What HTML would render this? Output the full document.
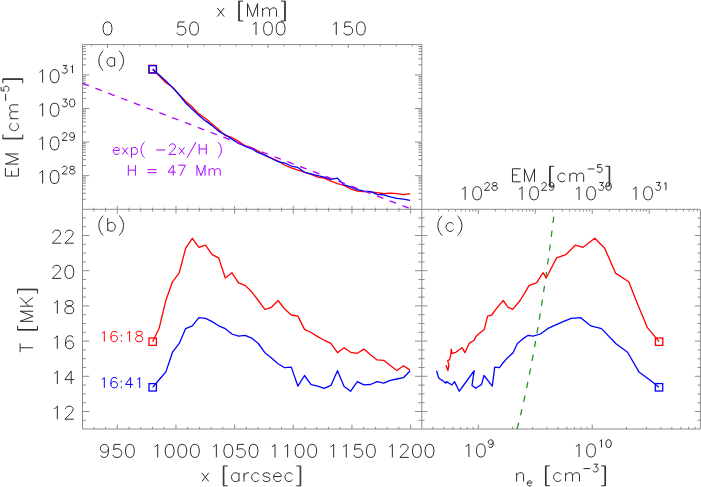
<!DOCTYPE html>
<html><head><meta charset="utf-8"><style>
html,body{margin:0;padding:0;background:#fff;}
svg{display:block;}
</style></head><body>
<svg width="701" height="487" viewBox="0 0 701 487">
<rect width="701" height="487" fill="#fff"/>
<g>
<line x1="82.50" y1="44.60" x2="421.80" y2="44.60" stroke="#8c8c8c" stroke-width="1.0"/>
<line x1="82.50" y1="209.30" x2="700.40" y2="209.30" stroke="#8c8c8c" stroke-width="1.0"/>
<line x1="82.50" y1="429.00" x2="700.40" y2="429.00" stroke="#8c8c8c" stroke-width="1.0"/>
<line x1="82.50" y1="44.60" x2="82.50" y2="429.00" stroke="#8c8c8c" stroke-width="1.0"/>
<line x1="421.80" y1="44.60" x2="421.80" y2="429.00" stroke="#8c8c8c" stroke-width="1.0"/>
<line x1="700.40" y1="209.30" x2="700.40" y2="429.00" stroke="#8c8c8c" stroke-width="1.0"/>
<line x1="82.50" y1="199.19" x2="85.90" y2="199.19" stroke="#8c8c8c" stroke-width="1.0"/>
<line x1="421.80" y1="199.19" x2="418.40" y2="199.19" stroke="#8c8c8c" stroke-width="1.0"/>
<line x1="82.50" y1="193.27" x2="85.90" y2="193.27" stroke="#8c8c8c" stroke-width="1.0"/>
<line x1="421.80" y1="193.27" x2="418.40" y2="193.27" stroke="#8c8c8c" stroke-width="1.0"/>
<line x1="82.50" y1="189.07" x2="85.90" y2="189.07" stroke="#8c8c8c" stroke-width="1.0"/>
<line x1="421.80" y1="189.07" x2="418.40" y2="189.07" stroke="#8c8c8c" stroke-width="1.0"/>
<line x1="82.50" y1="185.81" x2="85.90" y2="185.81" stroke="#8c8c8c" stroke-width="1.0"/>
<line x1="421.80" y1="185.81" x2="418.40" y2="185.81" stroke="#8c8c8c" stroke-width="1.0"/>
<line x1="82.50" y1="183.15" x2="85.90" y2="183.15" stroke="#8c8c8c" stroke-width="1.0"/>
<line x1="421.80" y1="183.15" x2="418.40" y2="183.15" stroke="#8c8c8c" stroke-width="1.0"/>
<line x1="82.50" y1="180.90" x2="85.90" y2="180.90" stroke="#8c8c8c" stroke-width="1.0"/>
<line x1="421.80" y1="180.90" x2="418.40" y2="180.90" stroke="#8c8c8c" stroke-width="1.0"/>
<line x1="82.50" y1="178.96" x2="85.90" y2="178.96" stroke="#8c8c8c" stroke-width="1.0"/>
<line x1="421.80" y1="178.96" x2="418.40" y2="178.96" stroke="#8c8c8c" stroke-width="1.0"/>
<line x1="82.50" y1="177.24" x2="85.90" y2="177.24" stroke="#8c8c8c" stroke-width="1.0"/>
<line x1="421.80" y1="177.24" x2="418.40" y2="177.24" stroke="#8c8c8c" stroke-width="1.0"/>
<line x1="82.50" y1="175.70" x2="89.30" y2="175.70" stroke="#8c8c8c" stroke-width="1.0"/>
<line x1="421.80" y1="175.70" x2="415.00" y2="175.70" stroke="#8c8c8c" stroke-width="1.0"/>
<line x1="82.50" y1="165.59" x2="85.90" y2="165.59" stroke="#8c8c8c" stroke-width="1.0"/>
<line x1="421.80" y1="165.59" x2="418.40" y2="165.59" stroke="#8c8c8c" stroke-width="1.0"/>
<line x1="82.50" y1="159.67" x2="85.90" y2="159.67" stroke="#8c8c8c" stroke-width="1.0"/>
<line x1="421.80" y1="159.67" x2="418.40" y2="159.67" stroke="#8c8c8c" stroke-width="1.0"/>
<line x1="82.50" y1="155.47" x2="85.90" y2="155.47" stroke="#8c8c8c" stroke-width="1.0"/>
<line x1="421.80" y1="155.47" x2="418.40" y2="155.47" stroke="#8c8c8c" stroke-width="1.0"/>
<line x1="82.50" y1="152.21" x2="85.90" y2="152.21" stroke="#8c8c8c" stroke-width="1.0"/>
<line x1="421.80" y1="152.21" x2="418.40" y2="152.21" stroke="#8c8c8c" stroke-width="1.0"/>
<line x1="82.50" y1="149.55" x2="85.90" y2="149.55" stroke="#8c8c8c" stroke-width="1.0"/>
<line x1="421.80" y1="149.55" x2="418.40" y2="149.55" stroke="#8c8c8c" stroke-width="1.0"/>
<line x1="82.50" y1="147.30" x2="85.90" y2="147.30" stroke="#8c8c8c" stroke-width="1.0"/>
<line x1="421.80" y1="147.30" x2="418.40" y2="147.30" stroke="#8c8c8c" stroke-width="1.0"/>
<line x1="82.50" y1="145.36" x2="85.90" y2="145.36" stroke="#8c8c8c" stroke-width="1.0"/>
<line x1="421.80" y1="145.36" x2="418.40" y2="145.36" stroke="#8c8c8c" stroke-width="1.0"/>
<line x1="82.50" y1="143.64" x2="85.90" y2="143.64" stroke="#8c8c8c" stroke-width="1.0"/>
<line x1="421.80" y1="143.64" x2="418.40" y2="143.64" stroke="#8c8c8c" stroke-width="1.0"/>
<line x1="82.50" y1="142.10" x2="89.30" y2="142.10" stroke="#8c8c8c" stroke-width="1.0"/>
<line x1="421.80" y1="142.10" x2="415.00" y2="142.10" stroke="#8c8c8c" stroke-width="1.0"/>
<line x1="82.50" y1="131.99" x2="85.90" y2="131.99" stroke="#8c8c8c" stroke-width="1.0"/>
<line x1="421.80" y1="131.99" x2="418.40" y2="131.99" stroke="#8c8c8c" stroke-width="1.0"/>
<line x1="82.50" y1="126.07" x2="85.90" y2="126.07" stroke="#8c8c8c" stroke-width="1.0"/>
<line x1="421.80" y1="126.07" x2="418.40" y2="126.07" stroke="#8c8c8c" stroke-width="1.0"/>
<line x1="82.50" y1="121.87" x2="85.90" y2="121.87" stroke="#8c8c8c" stroke-width="1.0"/>
<line x1="421.80" y1="121.87" x2="418.40" y2="121.87" stroke="#8c8c8c" stroke-width="1.0"/>
<line x1="82.50" y1="118.61" x2="85.90" y2="118.61" stroke="#8c8c8c" stroke-width="1.0"/>
<line x1="421.80" y1="118.61" x2="418.40" y2="118.61" stroke="#8c8c8c" stroke-width="1.0"/>
<line x1="82.50" y1="115.95" x2="85.90" y2="115.95" stroke="#8c8c8c" stroke-width="1.0"/>
<line x1="421.80" y1="115.95" x2="418.40" y2="115.95" stroke="#8c8c8c" stroke-width="1.0"/>
<line x1="82.50" y1="113.70" x2="85.90" y2="113.70" stroke="#8c8c8c" stroke-width="1.0"/>
<line x1="421.80" y1="113.70" x2="418.40" y2="113.70" stroke="#8c8c8c" stroke-width="1.0"/>
<line x1="82.50" y1="111.76" x2="85.90" y2="111.76" stroke="#8c8c8c" stroke-width="1.0"/>
<line x1="421.80" y1="111.76" x2="418.40" y2="111.76" stroke="#8c8c8c" stroke-width="1.0"/>
<line x1="82.50" y1="110.04" x2="85.90" y2="110.04" stroke="#8c8c8c" stroke-width="1.0"/>
<line x1="421.80" y1="110.04" x2="418.40" y2="110.04" stroke="#8c8c8c" stroke-width="1.0"/>
<line x1="82.50" y1="108.50" x2="89.30" y2="108.50" stroke="#8c8c8c" stroke-width="1.0"/>
<line x1="421.80" y1="108.50" x2="415.00" y2="108.50" stroke="#8c8c8c" stroke-width="1.0"/>
<line x1="82.50" y1="98.39" x2="85.90" y2="98.39" stroke="#8c8c8c" stroke-width="1.0"/>
<line x1="421.80" y1="98.39" x2="418.40" y2="98.39" stroke="#8c8c8c" stroke-width="1.0"/>
<line x1="82.50" y1="92.47" x2="85.90" y2="92.47" stroke="#8c8c8c" stroke-width="1.0"/>
<line x1="421.80" y1="92.47" x2="418.40" y2="92.47" stroke="#8c8c8c" stroke-width="1.0"/>
<line x1="82.50" y1="88.27" x2="85.90" y2="88.27" stroke="#8c8c8c" stroke-width="1.0"/>
<line x1="421.80" y1="88.27" x2="418.40" y2="88.27" stroke="#8c8c8c" stroke-width="1.0"/>
<line x1="82.50" y1="85.01" x2="85.90" y2="85.01" stroke="#8c8c8c" stroke-width="1.0"/>
<line x1="421.80" y1="85.01" x2="418.40" y2="85.01" stroke="#8c8c8c" stroke-width="1.0"/>
<line x1="82.50" y1="82.35" x2="85.90" y2="82.35" stroke="#8c8c8c" stroke-width="1.0"/>
<line x1="421.80" y1="82.35" x2="418.40" y2="82.35" stroke="#8c8c8c" stroke-width="1.0"/>
<line x1="82.50" y1="80.10" x2="85.90" y2="80.10" stroke="#8c8c8c" stroke-width="1.0"/>
<line x1="421.80" y1="80.10" x2="418.40" y2="80.10" stroke="#8c8c8c" stroke-width="1.0"/>
<line x1="82.50" y1="78.16" x2="85.90" y2="78.16" stroke="#8c8c8c" stroke-width="1.0"/>
<line x1="421.80" y1="78.16" x2="418.40" y2="78.16" stroke="#8c8c8c" stroke-width="1.0"/>
<line x1="82.50" y1="76.44" x2="85.90" y2="76.44" stroke="#8c8c8c" stroke-width="1.0"/>
<line x1="421.80" y1="76.44" x2="418.40" y2="76.44" stroke="#8c8c8c" stroke-width="1.0"/>
<line x1="82.50" y1="74.90" x2="89.30" y2="74.90" stroke="#8c8c8c" stroke-width="1.0"/>
<line x1="421.80" y1="74.90" x2="415.00" y2="74.90" stroke="#8c8c8c" stroke-width="1.0"/>
<line x1="82.50" y1="64.79" x2="85.90" y2="64.79" stroke="#8c8c8c" stroke-width="1.0"/>
<line x1="421.80" y1="64.79" x2="418.40" y2="64.79" stroke="#8c8c8c" stroke-width="1.0"/>
<line x1="82.50" y1="58.87" x2="85.90" y2="58.87" stroke="#8c8c8c" stroke-width="1.0"/>
<line x1="421.80" y1="58.87" x2="418.40" y2="58.87" stroke="#8c8c8c" stroke-width="1.0"/>
<line x1="82.50" y1="54.67" x2="85.90" y2="54.67" stroke="#8c8c8c" stroke-width="1.0"/>
<line x1="421.80" y1="54.67" x2="418.40" y2="54.67" stroke="#8c8c8c" stroke-width="1.0"/>
<line x1="82.50" y1="51.41" x2="85.90" y2="51.41" stroke="#8c8c8c" stroke-width="1.0"/>
<line x1="421.80" y1="51.41" x2="418.40" y2="51.41" stroke="#8c8c8c" stroke-width="1.0"/>
<line x1="82.50" y1="48.75" x2="85.90" y2="48.75" stroke="#8c8c8c" stroke-width="1.0"/>
<line x1="421.80" y1="48.75" x2="418.40" y2="48.75" stroke="#8c8c8c" stroke-width="1.0"/>
<line x1="82.50" y1="46.50" x2="85.90" y2="46.50" stroke="#8c8c8c" stroke-width="1.0"/>
<line x1="421.80" y1="46.50" x2="418.40" y2="46.50" stroke="#8c8c8c" stroke-width="1.0"/>
<line x1="91.45" y1="44.60" x2="91.45" y2="46.25" stroke="#8c8c8c" stroke-width="1.0"/>
<line x1="107.50" y1="44.60" x2="107.50" y2="47.90" stroke="#8c8c8c" stroke-width="1.0"/>
<line x1="123.55" y1="44.60" x2="123.55" y2="46.25" stroke="#8c8c8c" stroke-width="1.0"/>
<line x1="139.60" y1="44.60" x2="139.60" y2="46.25" stroke="#8c8c8c" stroke-width="1.0"/>
<line x1="155.65" y1="44.60" x2="155.65" y2="46.25" stroke="#8c8c8c" stroke-width="1.0"/>
<line x1="171.70" y1="44.60" x2="171.70" y2="46.25" stroke="#8c8c8c" stroke-width="1.0"/>
<line x1="187.75" y1="44.60" x2="187.75" y2="47.90" stroke="#8c8c8c" stroke-width="1.0"/>
<line x1="203.80" y1="44.60" x2="203.80" y2="46.25" stroke="#8c8c8c" stroke-width="1.0"/>
<line x1="219.85" y1="44.60" x2="219.85" y2="46.25" stroke="#8c8c8c" stroke-width="1.0"/>
<line x1="235.90" y1="44.60" x2="235.90" y2="46.25" stroke="#8c8c8c" stroke-width="1.0"/>
<line x1="251.95" y1="44.60" x2="251.95" y2="46.25" stroke="#8c8c8c" stroke-width="1.0"/>
<line x1="268.00" y1="44.60" x2="268.00" y2="47.90" stroke="#8c8c8c" stroke-width="1.0"/>
<line x1="284.05" y1="44.60" x2="284.05" y2="46.25" stroke="#8c8c8c" stroke-width="1.0"/>
<line x1="300.10" y1="44.60" x2="300.10" y2="46.25" stroke="#8c8c8c" stroke-width="1.0"/>
<line x1="316.15" y1="44.60" x2="316.15" y2="46.25" stroke="#8c8c8c" stroke-width="1.0"/>
<line x1="332.20" y1="44.60" x2="332.20" y2="46.25" stroke="#8c8c8c" stroke-width="1.0"/>
<line x1="348.25" y1="44.60" x2="348.25" y2="47.90" stroke="#8c8c8c" stroke-width="1.0"/>
<line x1="364.30" y1="44.60" x2="364.30" y2="46.25" stroke="#8c8c8c" stroke-width="1.0"/>
<line x1="380.35" y1="44.60" x2="380.35" y2="46.25" stroke="#8c8c8c" stroke-width="1.0"/>
<line x1="396.40" y1="44.60" x2="396.40" y2="46.25" stroke="#8c8c8c" stroke-width="1.0"/>
<line x1="412.45" y1="44.60" x2="412.45" y2="46.25" stroke="#8c8c8c" stroke-width="1.0"/>
<line x1="93.84" y1="209.30" x2="93.84" y2="207.65" stroke="#8c8c8c" stroke-width="1.0"/>
<line x1="105.57" y1="209.30" x2="105.57" y2="207.65" stroke="#8c8c8c" stroke-width="1.0"/>
<line x1="117.30" y1="209.30" x2="117.30" y2="206.00" stroke="#8c8c8c" stroke-width="1.0"/>
<line x1="129.03" y1="209.30" x2="129.03" y2="207.65" stroke="#8c8c8c" stroke-width="1.0"/>
<line x1="140.76" y1="209.30" x2="140.76" y2="207.65" stroke="#8c8c8c" stroke-width="1.0"/>
<line x1="152.50" y1="209.30" x2="152.50" y2="207.65" stroke="#8c8c8c" stroke-width="1.0"/>
<line x1="164.23" y1="209.30" x2="164.23" y2="207.65" stroke="#8c8c8c" stroke-width="1.0"/>
<line x1="175.96" y1="209.30" x2="175.96" y2="206.00" stroke="#8c8c8c" stroke-width="1.0"/>
<line x1="187.69" y1="209.30" x2="187.69" y2="207.65" stroke="#8c8c8c" stroke-width="1.0"/>
<line x1="199.42" y1="209.30" x2="199.42" y2="207.65" stroke="#8c8c8c" stroke-width="1.0"/>
<line x1="211.16" y1="209.30" x2="211.16" y2="207.65" stroke="#8c8c8c" stroke-width="1.0"/>
<line x1="222.89" y1="209.30" x2="222.89" y2="207.65" stroke="#8c8c8c" stroke-width="1.0"/>
<line x1="234.62" y1="209.30" x2="234.62" y2="206.00" stroke="#8c8c8c" stroke-width="1.0"/>
<line x1="246.35" y1="209.30" x2="246.35" y2="207.65" stroke="#8c8c8c" stroke-width="1.0"/>
<line x1="258.08" y1="209.30" x2="258.08" y2="207.65" stroke="#8c8c8c" stroke-width="1.0"/>
<line x1="269.82" y1="209.30" x2="269.82" y2="207.65" stroke="#8c8c8c" stroke-width="1.0"/>
<line x1="281.55" y1="209.30" x2="281.55" y2="207.65" stroke="#8c8c8c" stroke-width="1.0"/>
<line x1="293.28" y1="209.30" x2="293.28" y2="206.00" stroke="#8c8c8c" stroke-width="1.0"/>
<line x1="305.01" y1="209.30" x2="305.01" y2="207.65" stroke="#8c8c8c" stroke-width="1.0"/>
<line x1="316.74" y1="209.30" x2="316.74" y2="207.65" stroke="#8c8c8c" stroke-width="1.0"/>
<line x1="328.48" y1="209.30" x2="328.48" y2="207.65" stroke="#8c8c8c" stroke-width="1.0"/>
<line x1="340.21" y1="209.30" x2="340.21" y2="207.65" stroke="#8c8c8c" stroke-width="1.0"/>
<line x1="351.94" y1="209.30" x2="351.94" y2="206.00" stroke="#8c8c8c" stroke-width="1.0"/>
<line x1="363.67" y1="209.30" x2="363.67" y2="207.65" stroke="#8c8c8c" stroke-width="1.0"/>
<line x1="375.40" y1="209.30" x2="375.40" y2="207.65" stroke="#8c8c8c" stroke-width="1.0"/>
<line x1="387.14" y1="209.30" x2="387.14" y2="207.65" stroke="#8c8c8c" stroke-width="1.0"/>
<line x1="398.87" y1="209.30" x2="398.87" y2="207.65" stroke="#8c8c8c" stroke-width="1.0"/>
<line x1="410.60" y1="209.30" x2="410.60" y2="206.00" stroke="#8c8c8c" stroke-width="1.0"/>
<line x1="93.84" y1="209.30" x2="93.84" y2="211.50" stroke="#8c8c8c" stroke-width="1.0"/>
<line x1="93.84" y1="429.00" x2="93.84" y2="426.80" stroke="#8c8c8c" stroke-width="1.0"/>
<line x1="105.57" y1="209.30" x2="105.57" y2="211.50" stroke="#8c8c8c" stroke-width="1.0"/>
<line x1="105.57" y1="429.00" x2="105.57" y2="426.80" stroke="#8c8c8c" stroke-width="1.0"/>
<line x1="117.30" y1="209.30" x2="117.30" y2="213.70" stroke="#8c8c8c" stroke-width="1.0"/>
<line x1="117.30" y1="429.00" x2="117.30" y2="424.60" stroke="#8c8c8c" stroke-width="1.0"/>
<line x1="129.03" y1="209.30" x2="129.03" y2="211.50" stroke="#8c8c8c" stroke-width="1.0"/>
<line x1="129.03" y1="429.00" x2="129.03" y2="426.80" stroke="#8c8c8c" stroke-width="1.0"/>
<line x1="140.76" y1="209.30" x2="140.76" y2="211.50" stroke="#8c8c8c" stroke-width="1.0"/>
<line x1="140.76" y1="429.00" x2="140.76" y2="426.80" stroke="#8c8c8c" stroke-width="1.0"/>
<line x1="152.50" y1="209.30" x2="152.50" y2="211.50" stroke="#8c8c8c" stroke-width="1.0"/>
<line x1="152.50" y1="429.00" x2="152.50" y2="426.80" stroke="#8c8c8c" stroke-width="1.0"/>
<line x1="164.23" y1="209.30" x2="164.23" y2="211.50" stroke="#8c8c8c" stroke-width="1.0"/>
<line x1="164.23" y1="429.00" x2="164.23" y2="426.80" stroke="#8c8c8c" stroke-width="1.0"/>
<line x1="175.96" y1="209.30" x2="175.96" y2="213.70" stroke="#8c8c8c" stroke-width="1.0"/>
<line x1="175.96" y1="429.00" x2="175.96" y2="424.60" stroke="#8c8c8c" stroke-width="1.0"/>
<line x1="187.69" y1="209.30" x2="187.69" y2="211.50" stroke="#8c8c8c" stroke-width="1.0"/>
<line x1="187.69" y1="429.00" x2="187.69" y2="426.80" stroke="#8c8c8c" stroke-width="1.0"/>
<line x1="199.42" y1="209.30" x2="199.42" y2="211.50" stroke="#8c8c8c" stroke-width="1.0"/>
<line x1="199.42" y1="429.00" x2="199.42" y2="426.80" stroke="#8c8c8c" stroke-width="1.0"/>
<line x1="211.16" y1="209.30" x2="211.16" y2="211.50" stroke="#8c8c8c" stroke-width="1.0"/>
<line x1="211.16" y1="429.00" x2="211.16" y2="426.80" stroke="#8c8c8c" stroke-width="1.0"/>
<line x1="222.89" y1="209.30" x2="222.89" y2="211.50" stroke="#8c8c8c" stroke-width="1.0"/>
<line x1="222.89" y1="429.00" x2="222.89" y2="426.80" stroke="#8c8c8c" stroke-width="1.0"/>
<line x1="234.62" y1="209.30" x2="234.62" y2="213.70" stroke="#8c8c8c" stroke-width="1.0"/>
<line x1="234.62" y1="429.00" x2="234.62" y2="424.60" stroke="#8c8c8c" stroke-width="1.0"/>
<line x1="246.35" y1="209.30" x2="246.35" y2="211.50" stroke="#8c8c8c" stroke-width="1.0"/>
<line x1="246.35" y1="429.00" x2="246.35" y2="426.80" stroke="#8c8c8c" stroke-width="1.0"/>
<line x1="258.08" y1="209.30" x2="258.08" y2="211.50" stroke="#8c8c8c" stroke-width="1.0"/>
<line x1="258.08" y1="429.00" x2="258.08" y2="426.80" stroke="#8c8c8c" stroke-width="1.0"/>
<line x1="269.82" y1="209.30" x2="269.82" y2="211.50" stroke="#8c8c8c" stroke-width="1.0"/>
<line x1="269.82" y1="429.00" x2="269.82" y2="426.80" stroke="#8c8c8c" stroke-width="1.0"/>
<line x1="281.55" y1="209.30" x2="281.55" y2="211.50" stroke="#8c8c8c" stroke-width="1.0"/>
<line x1="281.55" y1="429.00" x2="281.55" y2="426.80" stroke="#8c8c8c" stroke-width="1.0"/>
<line x1="293.28" y1="209.30" x2="293.28" y2="213.70" stroke="#8c8c8c" stroke-width="1.0"/>
<line x1="293.28" y1="429.00" x2="293.28" y2="424.60" stroke="#8c8c8c" stroke-width="1.0"/>
<line x1="305.01" y1="209.30" x2="305.01" y2="211.50" stroke="#8c8c8c" stroke-width="1.0"/>
<line x1="305.01" y1="429.00" x2="305.01" y2="426.80" stroke="#8c8c8c" stroke-width="1.0"/>
<line x1="316.74" y1="209.30" x2="316.74" y2="211.50" stroke="#8c8c8c" stroke-width="1.0"/>
<line x1="316.74" y1="429.00" x2="316.74" y2="426.80" stroke="#8c8c8c" stroke-width="1.0"/>
<line x1="328.48" y1="209.30" x2="328.48" y2="211.50" stroke="#8c8c8c" stroke-width="1.0"/>
<line x1="328.48" y1="429.00" x2="328.48" y2="426.80" stroke="#8c8c8c" stroke-width="1.0"/>
<line x1="340.21" y1="209.30" x2="340.21" y2="211.50" stroke="#8c8c8c" stroke-width="1.0"/>
<line x1="340.21" y1="429.00" x2="340.21" y2="426.80" stroke="#8c8c8c" stroke-width="1.0"/>
<line x1="351.94" y1="209.30" x2="351.94" y2="213.70" stroke="#8c8c8c" stroke-width="1.0"/>
<line x1="351.94" y1="429.00" x2="351.94" y2="424.60" stroke="#8c8c8c" stroke-width="1.0"/>
<line x1="363.67" y1="209.30" x2="363.67" y2="211.50" stroke="#8c8c8c" stroke-width="1.0"/>
<line x1="363.67" y1="429.00" x2="363.67" y2="426.80" stroke="#8c8c8c" stroke-width="1.0"/>
<line x1="375.40" y1="209.30" x2="375.40" y2="211.50" stroke="#8c8c8c" stroke-width="1.0"/>
<line x1="375.40" y1="429.00" x2="375.40" y2="426.80" stroke="#8c8c8c" stroke-width="1.0"/>
<line x1="387.14" y1="209.30" x2="387.14" y2="211.50" stroke="#8c8c8c" stroke-width="1.0"/>
<line x1="387.14" y1="429.00" x2="387.14" y2="426.80" stroke="#8c8c8c" stroke-width="1.0"/>
<line x1="398.87" y1="209.30" x2="398.87" y2="211.50" stroke="#8c8c8c" stroke-width="1.0"/>
<line x1="398.87" y1="429.00" x2="398.87" y2="426.80" stroke="#8c8c8c" stroke-width="1.0"/>
<line x1="410.60" y1="209.30" x2="410.60" y2="213.70" stroke="#8c8c8c" stroke-width="1.0"/>
<line x1="410.60" y1="429.00" x2="410.60" y2="424.60" stroke="#8c8c8c" stroke-width="1.0"/>
<line x1="82.50" y1="420.30" x2="85.90" y2="420.30" stroke="#8c8c8c" stroke-width="1.0"/>
<line x1="421.80" y1="420.30" x2="418.40" y2="420.30" stroke="#8c8c8c" stroke-width="1.0"/>
<line x1="421.80" y1="420.30" x2="424.60" y2="420.30" stroke="#8c8c8c" stroke-width="1.0"/>
<line x1="700.40" y1="420.30" x2="697.60" y2="420.30" stroke="#8c8c8c" stroke-width="1.0"/>
<line x1="82.50" y1="411.50" x2="89.30" y2="411.50" stroke="#8c8c8c" stroke-width="1.0"/>
<line x1="421.80" y1="411.50" x2="415.00" y2="411.50" stroke="#8c8c8c" stroke-width="1.0"/>
<line x1="421.80" y1="411.50" x2="427.40" y2="411.50" stroke="#8c8c8c" stroke-width="1.0"/>
<line x1="700.40" y1="411.50" x2="694.80" y2="411.50" stroke="#8c8c8c" stroke-width="1.0"/>
<line x1="82.50" y1="402.70" x2="85.90" y2="402.70" stroke="#8c8c8c" stroke-width="1.0"/>
<line x1="421.80" y1="402.70" x2="418.40" y2="402.70" stroke="#8c8c8c" stroke-width="1.0"/>
<line x1="421.80" y1="402.70" x2="424.60" y2="402.70" stroke="#8c8c8c" stroke-width="1.0"/>
<line x1="700.40" y1="402.70" x2="697.60" y2="402.70" stroke="#8c8c8c" stroke-width="1.0"/>
<line x1="82.50" y1="393.90" x2="85.90" y2="393.90" stroke="#8c8c8c" stroke-width="1.0"/>
<line x1="421.80" y1="393.90" x2="418.40" y2="393.90" stroke="#8c8c8c" stroke-width="1.0"/>
<line x1="421.80" y1="393.90" x2="424.60" y2="393.90" stroke="#8c8c8c" stroke-width="1.0"/>
<line x1="700.40" y1="393.90" x2="697.60" y2="393.90" stroke="#8c8c8c" stroke-width="1.0"/>
<line x1="82.50" y1="385.10" x2="85.90" y2="385.10" stroke="#8c8c8c" stroke-width="1.0"/>
<line x1="421.80" y1="385.10" x2="418.40" y2="385.10" stroke="#8c8c8c" stroke-width="1.0"/>
<line x1="421.80" y1="385.10" x2="424.60" y2="385.10" stroke="#8c8c8c" stroke-width="1.0"/>
<line x1="700.40" y1="385.10" x2="697.60" y2="385.10" stroke="#8c8c8c" stroke-width="1.0"/>
<line x1="82.50" y1="376.30" x2="89.30" y2="376.30" stroke="#8c8c8c" stroke-width="1.0"/>
<line x1="421.80" y1="376.30" x2="415.00" y2="376.30" stroke="#8c8c8c" stroke-width="1.0"/>
<line x1="421.80" y1="376.30" x2="427.40" y2="376.30" stroke="#8c8c8c" stroke-width="1.0"/>
<line x1="700.40" y1="376.30" x2="694.80" y2="376.30" stroke="#8c8c8c" stroke-width="1.0"/>
<line x1="82.50" y1="367.50" x2="85.90" y2="367.50" stroke="#8c8c8c" stroke-width="1.0"/>
<line x1="421.80" y1="367.50" x2="418.40" y2="367.50" stroke="#8c8c8c" stroke-width="1.0"/>
<line x1="421.80" y1="367.50" x2="424.60" y2="367.50" stroke="#8c8c8c" stroke-width="1.0"/>
<line x1="700.40" y1="367.50" x2="697.60" y2="367.50" stroke="#8c8c8c" stroke-width="1.0"/>
<line x1="82.50" y1="358.70" x2="85.90" y2="358.70" stroke="#8c8c8c" stroke-width="1.0"/>
<line x1="421.80" y1="358.70" x2="418.40" y2="358.70" stroke="#8c8c8c" stroke-width="1.0"/>
<line x1="421.80" y1="358.70" x2="424.60" y2="358.70" stroke="#8c8c8c" stroke-width="1.0"/>
<line x1="700.40" y1="358.70" x2="697.60" y2="358.70" stroke="#8c8c8c" stroke-width="1.0"/>
<line x1="82.50" y1="349.90" x2="85.90" y2="349.90" stroke="#8c8c8c" stroke-width="1.0"/>
<line x1="421.80" y1="349.90" x2="418.40" y2="349.90" stroke="#8c8c8c" stroke-width="1.0"/>
<line x1="421.80" y1="349.90" x2="424.60" y2="349.90" stroke="#8c8c8c" stroke-width="1.0"/>
<line x1="700.40" y1="349.90" x2="697.60" y2="349.90" stroke="#8c8c8c" stroke-width="1.0"/>
<line x1="82.50" y1="341.10" x2="89.30" y2="341.10" stroke="#8c8c8c" stroke-width="1.0"/>
<line x1="421.80" y1="341.10" x2="415.00" y2="341.10" stroke="#8c8c8c" stroke-width="1.0"/>
<line x1="421.80" y1="341.10" x2="427.40" y2="341.10" stroke="#8c8c8c" stroke-width="1.0"/>
<line x1="700.40" y1="341.10" x2="694.80" y2="341.10" stroke="#8c8c8c" stroke-width="1.0"/>
<line x1="82.50" y1="332.30" x2="85.90" y2="332.30" stroke="#8c8c8c" stroke-width="1.0"/>
<line x1="421.80" y1="332.30" x2="418.40" y2="332.30" stroke="#8c8c8c" stroke-width="1.0"/>
<line x1="421.80" y1="332.30" x2="424.60" y2="332.30" stroke="#8c8c8c" stroke-width="1.0"/>
<line x1="700.40" y1="332.30" x2="697.60" y2="332.30" stroke="#8c8c8c" stroke-width="1.0"/>
<line x1="82.50" y1="323.50" x2="85.90" y2="323.50" stroke="#8c8c8c" stroke-width="1.0"/>
<line x1="421.80" y1="323.50" x2="418.40" y2="323.50" stroke="#8c8c8c" stroke-width="1.0"/>
<line x1="421.80" y1="323.50" x2="424.60" y2="323.50" stroke="#8c8c8c" stroke-width="1.0"/>
<line x1="700.40" y1="323.50" x2="697.60" y2="323.50" stroke="#8c8c8c" stroke-width="1.0"/>
<line x1="82.50" y1="314.70" x2="85.90" y2="314.70" stroke="#8c8c8c" stroke-width="1.0"/>
<line x1="421.80" y1="314.70" x2="418.40" y2="314.70" stroke="#8c8c8c" stroke-width="1.0"/>
<line x1="421.80" y1="314.70" x2="424.60" y2="314.70" stroke="#8c8c8c" stroke-width="1.0"/>
<line x1="700.40" y1="314.70" x2="697.60" y2="314.70" stroke="#8c8c8c" stroke-width="1.0"/>
<line x1="82.50" y1="305.90" x2="89.30" y2="305.90" stroke="#8c8c8c" stroke-width="1.0"/>
<line x1="421.80" y1="305.90" x2="415.00" y2="305.90" stroke="#8c8c8c" stroke-width="1.0"/>
<line x1="421.80" y1="305.90" x2="427.40" y2="305.90" stroke="#8c8c8c" stroke-width="1.0"/>
<line x1="700.40" y1="305.90" x2="694.80" y2="305.90" stroke="#8c8c8c" stroke-width="1.0"/>
<line x1="82.50" y1="297.10" x2="85.90" y2="297.10" stroke="#8c8c8c" stroke-width="1.0"/>
<line x1="421.80" y1="297.10" x2="418.40" y2="297.10" stroke="#8c8c8c" stroke-width="1.0"/>
<line x1="421.80" y1="297.10" x2="424.60" y2="297.10" stroke="#8c8c8c" stroke-width="1.0"/>
<line x1="700.40" y1="297.10" x2="697.60" y2="297.10" stroke="#8c8c8c" stroke-width="1.0"/>
<line x1="82.50" y1="288.30" x2="85.90" y2="288.30" stroke="#8c8c8c" stroke-width="1.0"/>
<line x1="421.80" y1="288.30" x2="418.40" y2="288.30" stroke="#8c8c8c" stroke-width="1.0"/>
<line x1="421.80" y1="288.30" x2="424.60" y2="288.30" stroke="#8c8c8c" stroke-width="1.0"/>
<line x1="700.40" y1="288.30" x2="697.60" y2="288.30" stroke="#8c8c8c" stroke-width="1.0"/>
<line x1="82.50" y1="279.50" x2="85.90" y2="279.50" stroke="#8c8c8c" stroke-width="1.0"/>
<line x1="421.80" y1="279.50" x2="418.40" y2="279.50" stroke="#8c8c8c" stroke-width="1.0"/>
<line x1="421.80" y1="279.50" x2="424.60" y2="279.50" stroke="#8c8c8c" stroke-width="1.0"/>
<line x1="700.40" y1="279.50" x2="697.60" y2="279.50" stroke="#8c8c8c" stroke-width="1.0"/>
<line x1="82.50" y1="270.70" x2="89.30" y2="270.70" stroke="#8c8c8c" stroke-width="1.0"/>
<line x1="421.80" y1="270.70" x2="415.00" y2="270.70" stroke="#8c8c8c" stroke-width="1.0"/>
<line x1="421.80" y1="270.70" x2="427.40" y2="270.70" stroke="#8c8c8c" stroke-width="1.0"/>
<line x1="700.40" y1="270.70" x2="694.80" y2="270.70" stroke="#8c8c8c" stroke-width="1.0"/>
<line x1="82.50" y1="261.90" x2="85.90" y2="261.90" stroke="#8c8c8c" stroke-width="1.0"/>
<line x1="421.80" y1="261.90" x2="418.40" y2="261.90" stroke="#8c8c8c" stroke-width="1.0"/>
<line x1="421.80" y1="261.90" x2="424.60" y2="261.90" stroke="#8c8c8c" stroke-width="1.0"/>
<line x1="700.40" y1="261.90" x2="697.60" y2="261.90" stroke="#8c8c8c" stroke-width="1.0"/>
<line x1="82.50" y1="253.10" x2="85.90" y2="253.10" stroke="#8c8c8c" stroke-width="1.0"/>
<line x1="421.80" y1="253.10" x2="418.40" y2="253.10" stroke="#8c8c8c" stroke-width="1.0"/>
<line x1="421.80" y1="253.10" x2="424.60" y2="253.10" stroke="#8c8c8c" stroke-width="1.0"/>
<line x1="700.40" y1="253.10" x2="697.60" y2="253.10" stroke="#8c8c8c" stroke-width="1.0"/>
<line x1="82.50" y1="244.30" x2="85.90" y2="244.30" stroke="#8c8c8c" stroke-width="1.0"/>
<line x1="421.80" y1="244.30" x2="418.40" y2="244.30" stroke="#8c8c8c" stroke-width="1.0"/>
<line x1="421.80" y1="244.30" x2="424.60" y2="244.30" stroke="#8c8c8c" stroke-width="1.0"/>
<line x1="700.40" y1="244.30" x2="697.60" y2="244.30" stroke="#8c8c8c" stroke-width="1.0"/>
<line x1="82.50" y1="235.50" x2="89.30" y2="235.50" stroke="#8c8c8c" stroke-width="1.0"/>
<line x1="421.80" y1="235.50" x2="415.00" y2="235.50" stroke="#8c8c8c" stroke-width="1.0"/>
<line x1="421.80" y1="235.50" x2="427.40" y2="235.50" stroke="#8c8c8c" stroke-width="1.0"/>
<line x1="700.40" y1="235.50" x2="694.80" y2="235.50" stroke="#8c8c8c" stroke-width="1.0"/>
<line x1="82.50" y1="226.70" x2="85.90" y2="226.70" stroke="#8c8c8c" stroke-width="1.0"/>
<line x1="421.80" y1="226.70" x2="418.40" y2="226.70" stroke="#8c8c8c" stroke-width="1.0"/>
<line x1="421.80" y1="226.70" x2="424.60" y2="226.70" stroke="#8c8c8c" stroke-width="1.0"/>
<line x1="700.40" y1="226.70" x2="697.60" y2="226.70" stroke="#8c8c8c" stroke-width="1.0"/>
<line x1="82.50" y1="217.90" x2="85.90" y2="217.90" stroke="#8c8c8c" stroke-width="1.0"/>
<line x1="421.80" y1="217.90" x2="418.40" y2="217.90" stroke="#8c8c8c" stroke-width="1.0"/>
<line x1="421.80" y1="217.90" x2="424.60" y2="217.90" stroke="#8c8c8c" stroke-width="1.0"/>
<line x1="700.40" y1="217.90" x2="697.60" y2="217.90" stroke="#8c8c8c" stroke-width="1.0"/>
<line x1="438.48" y1="209.30" x2="438.48" y2="211.50" stroke="#8c8c8c" stroke-width="1.0"/>
<line x1="448.51" y1="209.30" x2="448.51" y2="211.50" stroke="#8c8c8c" stroke-width="1.0"/>
<line x1="455.63" y1="209.30" x2="455.63" y2="211.50" stroke="#8c8c8c" stroke-width="1.0"/>
<line x1="461.15" y1="209.30" x2="461.15" y2="211.50" stroke="#8c8c8c" stroke-width="1.0"/>
<line x1="465.66" y1="209.30" x2="465.66" y2="211.50" stroke="#8c8c8c" stroke-width="1.0"/>
<line x1="469.48" y1="209.30" x2="469.48" y2="211.50" stroke="#8c8c8c" stroke-width="1.0"/>
<line x1="472.78" y1="209.30" x2="472.78" y2="211.50" stroke="#8c8c8c" stroke-width="1.0"/>
<line x1="475.69" y1="209.30" x2="475.69" y2="211.50" stroke="#8c8c8c" stroke-width="1.0"/>
<line x1="478.30" y1="209.30" x2="478.30" y2="213.70" stroke="#8c8c8c" stroke-width="1.0"/>
<line x1="495.45" y1="209.30" x2="495.45" y2="211.50" stroke="#8c8c8c" stroke-width="1.0"/>
<line x1="505.48" y1="209.30" x2="505.48" y2="211.50" stroke="#8c8c8c" stroke-width="1.0"/>
<line x1="512.60" y1="209.30" x2="512.60" y2="211.50" stroke="#8c8c8c" stroke-width="1.0"/>
<line x1="518.12" y1="209.30" x2="518.12" y2="211.50" stroke="#8c8c8c" stroke-width="1.0"/>
<line x1="522.63" y1="209.30" x2="522.63" y2="211.50" stroke="#8c8c8c" stroke-width="1.0"/>
<line x1="526.45" y1="209.30" x2="526.45" y2="211.50" stroke="#8c8c8c" stroke-width="1.0"/>
<line x1="529.75" y1="209.30" x2="529.75" y2="211.50" stroke="#8c8c8c" stroke-width="1.0"/>
<line x1="532.66" y1="209.30" x2="532.66" y2="211.50" stroke="#8c8c8c" stroke-width="1.0"/>
<line x1="535.27" y1="209.30" x2="535.27" y2="213.70" stroke="#8c8c8c" stroke-width="1.0"/>
<line x1="552.42" y1="209.30" x2="552.42" y2="211.50" stroke="#8c8c8c" stroke-width="1.0"/>
<line x1="562.45" y1="209.30" x2="562.45" y2="211.50" stroke="#8c8c8c" stroke-width="1.0"/>
<line x1="569.57" y1="209.30" x2="569.57" y2="211.50" stroke="#8c8c8c" stroke-width="1.0"/>
<line x1="575.09" y1="209.30" x2="575.09" y2="211.50" stroke="#8c8c8c" stroke-width="1.0"/>
<line x1="579.60" y1="209.30" x2="579.60" y2="211.50" stroke="#8c8c8c" stroke-width="1.0"/>
<line x1="583.42" y1="209.30" x2="583.42" y2="211.50" stroke="#8c8c8c" stroke-width="1.0"/>
<line x1="586.72" y1="209.30" x2="586.72" y2="211.50" stroke="#8c8c8c" stroke-width="1.0"/>
<line x1="589.63" y1="209.30" x2="589.63" y2="211.50" stroke="#8c8c8c" stroke-width="1.0"/>
<line x1="592.24" y1="209.30" x2="592.24" y2="213.70" stroke="#8c8c8c" stroke-width="1.0"/>
<line x1="609.39" y1="209.30" x2="609.39" y2="211.50" stroke="#8c8c8c" stroke-width="1.0"/>
<line x1="619.42" y1="209.30" x2="619.42" y2="211.50" stroke="#8c8c8c" stroke-width="1.0"/>
<line x1="626.54" y1="209.30" x2="626.54" y2="211.50" stroke="#8c8c8c" stroke-width="1.0"/>
<line x1="632.06" y1="209.30" x2="632.06" y2="211.50" stroke="#8c8c8c" stroke-width="1.0"/>
<line x1="636.57" y1="209.30" x2="636.57" y2="211.50" stroke="#8c8c8c" stroke-width="1.0"/>
<line x1="640.39" y1="209.30" x2="640.39" y2="211.50" stroke="#8c8c8c" stroke-width="1.0"/>
<line x1="643.69" y1="209.30" x2="643.69" y2="211.50" stroke="#8c8c8c" stroke-width="1.0"/>
<line x1="646.60" y1="209.30" x2="646.60" y2="211.50" stroke="#8c8c8c" stroke-width="1.0"/>
<line x1="649.21" y1="209.30" x2="649.21" y2="213.70" stroke="#8c8c8c" stroke-width="1.0"/>
<line x1="666.36" y1="209.30" x2="666.36" y2="211.50" stroke="#8c8c8c" stroke-width="1.0"/>
<line x1="676.39" y1="209.30" x2="676.39" y2="211.50" stroke="#8c8c8c" stroke-width="1.0"/>
<line x1="683.51" y1="209.30" x2="683.51" y2="211.50" stroke="#8c8c8c" stroke-width="1.0"/>
<line x1="689.03" y1="209.30" x2="689.03" y2="211.50" stroke="#8c8c8c" stroke-width="1.0"/>
<line x1="693.54" y1="209.30" x2="693.54" y2="211.50" stroke="#8c8c8c" stroke-width="1.0"/>
<line x1="697.36" y1="209.30" x2="697.36" y2="211.50" stroke="#8c8c8c" stroke-width="1.0"/>
<line x1="432.96" y1="429.00" x2="432.96" y2="426.80" stroke="#8c8c8c" stroke-width="1.0"/>
<line x1="444.00" y1="429.00" x2="444.00" y2="426.80" stroke="#8c8c8c" stroke-width="1.0"/>
<line x1="453.02" y1="429.00" x2="453.02" y2="426.80" stroke="#8c8c8c" stroke-width="1.0"/>
<line x1="460.65" y1="429.00" x2="460.65" y2="426.80" stroke="#8c8c8c" stroke-width="1.0"/>
<line x1="467.26" y1="429.00" x2="467.26" y2="426.80" stroke="#8c8c8c" stroke-width="1.0"/>
<line x1="473.09" y1="429.00" x2="473.09" y2="426.80" stroke="#8c8c8c" stroke-width="1.0"/>
<line x1="478.30" y1="429.00" x2="478.30" y2="424.60" stroke="#8c8c8c" stroke-width="1.0"/>
<line x1="512.60" y1="429.00" x2="512.60" y2="426.80" stroke="#8c8c8c" stroke-width="1.0"/>
<line x1="532.66" y1="429.00" x2="532.66" y2="426.80" stroke="#8c8c8c" stroke-width="1.0"/>
<line x1="546.90" y1="429.00" x2="546.90" y2="426.80" stroke="#8c8c8c" stroke-width="1.0"/>
<line x1="557.94" y1="429.00" x2="557.94" y2="426.80" stroke="#8c8c8c" stroke-width="1.0"/>
<line x1="566.96" y1="429.00" x2="566.96" y2="426.80" stroke="#8c8c8c" stroke-width="1.0"/>
<line x1="574.59" y1="429.00" x2="574.59" y2="426.80" stroke="#8c8c8c" stroke-width="1.0"/>
<line x1="581.20" y1="429.00" x2="581.20" y2="426.80" stroke="#8c8c8c" stroke-width="1.0"/>
<line x1="587.03" y1="429.00" x2="587.03" y2="426.80" stroke="#8c8c8c" stroke-width="1.0"/>
<line x1="592.24" y1="429.00" x2="592.24" y2="424.60" stroke="#8c8c8c" stroke-width="1.0"/>
<line x1="626.54" y1="429.00" x2="626.54" y2="426.80" stroke="#8c8c8c" stroke-width="1.0"/>
<line x1="646.60" y1="429.00" x2="646.60" y2="426.80" stroke="#8c8c8c" stroke-width="1.0"/>
<line x1="660.84" y1="429.00" x2="660.84" y2="426.80" stroke="#8c8c8c" stroke-width="1.0"/>
<line x1="671.88" y1="429.00" x2="671.88" y2="426.80" stroke="#8c8c8c" stroke-width="1.0"/>
<line x1="680.90" y1="429.00" x2="680.90" y2="426.80" stroke="#8c8c8c" stroke-width="1.0"/>
<line x1="688.53" y1="429.00" x2="688.53" y2="426.80" stroke="#8c8c8c" stroke-width="1.0"/>
<line x1="695.14" y1="429.00" x2="695.14" y2="426.80" stroke="#8c8c8c" stroke-width="1.0"/>
</g>
<g>
<polyline points="152.70,69.00 159.30,75.96 165.90,82.69 172.50,86.93 179.10,94.78 185.70,101.15 192.30,106.98 198.90,113.89 205.50,118.54 212.10,124.09 218.70,129.52 225.30,135.65 231.90,137.48 238.50,141.37 245.10,145.73 251.70,147.92 258.30,151.04 264.90,155.41 271.50,158.12 278.10,161.01 284.70,165.26 291.30,167.79 297.90,170.21 304.50,172.16 311.10,174.46 317.70,177.11 324.30,178.11 330.90,181.12 337.50,183.60 344.10,185.37 350.70,188.91 357.30,191.15 363.90,191.68 370.50,191.92 377.10,192.68 383.70,193.74 390.30,193.04 396.90,193.63 403.50,194.63 410.10,193.63" fill="none" stroke="#ff0000" stroke-width="1.3" stroke-linejoin="round" />
<polyline points="152.70,69.40 159.30,74.90 165.90,80.97 172.50,87.64 179.10,94.48 185.70,103.03 192.30,109.29 198.90,115.48 205.50,120.90 212.10,125.62 218.70,131.34 225.30,134.76 231.90,139.13 238.50,143.43 245.10,146.27 251.70,148.80 258.30,152.64 264.90,155.17 271.50,158.53 278.10,161.54 284.70,163.19 291.30,166.02 297.90,167.44 304.50,172.33 311.10,173.81 317.70,175.52 324.30,177.17 330.90,179.41 337.50,178.11 344.10,184.90 350.70,186.90 357.30,189.73 363.90,191.21 370.50,191.68 377.10,194.45 383.70,194.86 390.30,196.81 396.90,198.34 403.50,199.11 410.10,200.29" fill="none" stroke="#0000ff" stroke-width="1.3" stroke-linejoin="round" />
<line x1="82.6" y1="83.30" x2="410.1" y2="208.60" stroke="#aa00ff" stroke-width="1.3" stroke-dasharray="6.8 6.9"/>
<polyline points="152.70,341.70 159.30,327.70 165.90,300.30 172.50,281.80 179.10,273.10 185.70,248.20 192.30,238.30 198.90,247.30 205.50,245.20 212.10,254.70 218.70,257.90 225.30,278.00 231.90,272.70 238.50,282.90 245.10,285.40 251.70,291.80 258.30,300.50 264.90,309.30 271.50,307.30 278.10,300.50 284.70,309.10 291.30,315.00 297.90,316.10 304.50,329.40 311.10,332.50 317.70,336.60 324.30,340.30 330.90,343.40 337.50,352.70 344.10,347.70 350.70,352.30 357.30,353.30 363.90,349.10 370.50,354.80 377.10,359.90 383.70,360.30 390.30,365.40 396.90,370.60 403.50,365.70 410.10,370.10" fill="none" stroke="#ff0000" stroke-width="1.3" stroke-linejoin="round" />
<polyline points="152.70,387.30 159.30,379.50 165.90,371.90 172.50,352.20 179.10,343.70 185.70,328.60 192.30,325.90 198.90,317.60 205.50,318.30 212.10,321.60 218.70,325.80 225.30,328.70 231.90,334.00 238.50,336.10 245.10,335.30 251.70,338.10 258.30,343.50 264.90,352.70 271.50,357.90 278.10,363.80 284.70,367.70 291.30,367.10 297.90,386.20 304.50,375.50 311.10,384.60 317.70,386.20 324.30,388.30 330.90,385.40 337.50,370.70 344.10,386.50 350.70,391.20 357.30,381.60 363.90,384.90 370.50,384.50 377.10,381.60 383.70,383.20 390.30,380.40 396.90,379.00 403.50,377.70 410.10,370.70" fill="none" stroke="#0000ff" stroke-width="1.3" stroke-linejoin="round" />
<polyline points="517.09,429.00 518.48,423.51 519.83,418.01 521.14,412.52 522.42,407.03 523.66,401.54 524.88,396.05 526.07,390.55 527.22,385.06 528.36,379.57 529.46,374.07 530.55,368.58 531.61,363.09 532.64,357.60 533.66,352.11 534.65,346.61 535.63,341.12 536.59,335.63 537.53,330.13 538.45,324.64 539.35,319.15 540.24,313.66 541.11,308.17 541.97,302.67 542.81,297.18 543.64,291.69 544.46,286.19 545.26,280.70 546.05,275.21 546.82,269.72 547.59,264.23 548.34,258.73 549.08,253.24 549.81,247.75 550.53,242.26 551.24,236.76 551.94,231.27 552.63,225.78 553.31,220.28 553.99,214.79 554.65,209.30" fill="none" stroke="#1f9a1f" stroke-width="1.3" stroke-linejoin="round" stroke-dasharray="6.35 7.59" stroke-dashoffset="-0.1" stroke-linecap="butt"/>
<polyline points="659.10,341.70 647.40,327.70 636.00,300.30 628.80,281.80 615.50,273.10 604.70,248.20 594.80,238.30 583.10,247.30 575.20,245.20 565.80,254.70 556.60,257.90 546.20,278.00 543.10,272.70 536.50,282.90 529.10,285.40 525.40,291.80 520.10,300.50 512.70,309.30 508.10,307.30 503.20,300.50 496.00,309.10 491.70,315.00 487.60,316.10 484.30,329.40 480.40,332.50 475.90,336.60 474.20,340.30 469.10,343.40 464.90,352.70 461.90,347.70 455.90,352.30 452.10,353.30 451.20,349.10 450.80,354.80 449.50,359.90 447.70,360.30 448.90,365.40 447.90,370.60 446.20,365.70 447.90,370.10" fill="none" stroke="#ff0000" stroke-width="1.3" stroke-linejoin="round" />
<polyline points="659.00,387.30 649.20,379.50 638.90,371.90 627.60,352.20 616.00,343.70 601.50,328.60 590.90,325.90 580.40,317.60 571.20,318.30 563.20,321.60 553.50,325.80 547.70,328.70 540.30,334.00 533.00,336.10 528.20,335.30 523.90,338.10 517.40,343.50 513.10,352.70 507.40,357.90 502.30,363.80 499.50,367.70 494.70,367.10 492.30,386.20 484.00,375.50 481.50,384.60 478.60,386.20 475.80,388.30 472.00,385.40 474.20,370.70 462.70,386.50 459.30,391.20 454.50,381.60 452.00,384.90 451.20,384.50 446.50,381.60 445.80,383.20 442.50,380.40 439.90,379.00 438.60,377.70 436.60,370.70" fill="none" stroke="#0000ff" stroke-width="1.3" stroke-linejoin="round" />
<rect x="149.00" y="65.30" width="7.4" height="7.4" fill="none" stroke="#ff0000" stroke-width="1.3"/>
<rect x="149.00" y="65.70" width="7.4" height="7.4" fill="none" stroke="#0000ff" stroke-width="1.3"/>
<rect x="149.00" y="338.00" width="7.4" height="7.4" fill="none" stroke="#ff0000" stroke-width="1.3"/>
<rect x="149.00" y="383.60" width="7.4" height="7.4" fill="none" stroke="#0000ff" stroke-width="1.3"/>
<rect x="655.40" y="338.00" width="7.4" height="7.4" fill="none" stroke="#ff0000" stroke-width="1.3"/>
<rect x="655.30" y="383.60" width="7.4" height="7.4" fill="none" stroke="#0000ff" stroke-width="1.3"/>
</g>
<g>
<path d="M106.87,21.98 L104.98,22.60 L103.72,24.46 L103.09,27.56 L103.09,29.42 L103.72,32.52 L104.98,34.38 L106.87,35.00 L108.13,35.00 L110.02,34.38 L111.28,32.52 L111.91,29.42 L111.91,27.56 L111.28,24.46 L110.02,22.60 L108.13,21.98 L106.87,21.98 M184.60,21.98 L178.30,21.98 L177.67,27.56 L178.30,26.94 L180.19,26.32 L182.08,26.32 L183.97,26.94 L185.23,28.18 L185.86,30.04 L185.86,31.28 L185.23,33.14 L183.97,34.38 L182.08,35.00 L180.19,35.00 L178.30,34.38 L177.67,33.76 L177.04,32.52 M193.42,21.98 L191.53,22.60 L190.27,24.46 L189.64,27.56 L189.64,29.42 L190.27,32.52 L191.53,34.38 L193.42,35.00 L194.68,35.00 L196.57,34.38 L197.83,32.52 L198.46,29.42 L198.46,27.56 L197.83,24.46 L196.57,22.60 L194.68,21.98 L193.42,21.98 M252.88,24.46 L254.14,23.84 L256.03,21.98 L256.03,35.00 M267.37,21.98 L265.48,22.60 L264.22,24.46 L263.59,27.56 L263.59,29.42 L264.22,32.52 L265.48,34.38 L267.37,35.00 L268.63,35.00 L270.52,34.38 L271.78,32.52 L272.41,29.42 L272.41,27.56 L271.78,24.46 L270.52,22.60 L268.63,21.98 L267.37,21.98 M279.97,21.98 L278.08,22.60 L276.82,24.46 L276.19,27.56 L276.19,29.42 L276.82,32.52 L278.08,34.38 L279.97,35.00 L281.23,35.00 L283.12,34.38 L284.38,32.52 L285.01,29.42 L285.01,27.56 L284.38,24.46 L283.12,22.60 L281.23,21.98 L279.97,21.98 M333.13,24.46 L334.39,23.84 L336.28,21.98 L336.28,35.00 M351.40,21.98 L345.10,21.98 L344.47,27.56 L345.10,26.94 L346.99,26.32 L348.88,26.32 L350.77,26.94 L352.03,28.18 L352.66,30.04 L352.66,31.28 L352.03,33.14 L350.77,34.38 L348.88,35.00 L346.99,35.00 L345.10,34.38 L344.47,33.76 L343.84,32.52 M360.22,21.98 L358.33,22.60 L357.07,24.46 L356.44,27.56 L356.44,29.42 L357.07,32.52 L358.33,34.38 L360.22,35.00 L361.48,35.00 L363.37,34.38 L364.63,32.52 L365.26,29.42 L365.26,27.56 L364.63,24.46 L363.37,22.60 L361.48,21.98 L360.22,21.98 M217.26,7.92 L224.19,16.60 M224.19,7.92 L217.26,16.60 M238.69,1.10 L238.69,20.94 M239.31,1.10 L239.31,20.94 M238.69,1.10 L243.09,1.10 M238.69,20.94 L243.09,20.94 M247.50,3.58 L247.50,16.60 M247.50,3.58 L252.55,16.60 M257.58,3.58 L252.55,16.60 M257.58,3.58 L257.58,16.60 M262.62,7.92 L262.62,16.60 M262.62,10.40 L264.51,8.54 L265.77,7.92 L267.67,7.92 L268.93,8.54 L269.56,10.40 L269.56,16.60 M269.56,10.40 L271.44,8.54 L272.70,7.92 L274.60,7.92 L275.86,8.54 L276.49,10.40 L276.49,16.60 M284.68,1.10 L284.68,20.94 M285.31,1.10 L285.31,20.94 M280.89,1.10 L285.31,1.10 M280.89,20.94 L285.31,20.94 M39.48,72.16 L40.74,71.54 L42.63,69.68 L42.63,82.70 M53.97,69.68 L52.08,70.30 L50.82,72.16 L50.19,75.26 L50.19,77.12 L50.82,80.22 L52.08,82.08 L53.97,82.70 L55.23,82.70 L57.12,82.08 L58.38,80.22 L59.01,77.12 L59.01,75.26 L58.38,72.16 L57.12,70.30 L55.23,69.68 L53.97,69.68 M62.78,65.45 L66.90,65.45 L64.65,68.40 L65.78,68.40 L66.53,68.77 L66.90,69.14 L67.28,70.25 L67.28,70.99 L66.90,72.09 L66.15,72.83 L65.03,73.20 L63.90,73.20 L62.78,72.83 L62.40,72.46 L62.03,71.72 M70.65,66.93 L71.40,66.56 L72.53,65.45 L72.53,73.20 M39.48,105.76 L40.74,105.14 L42.63,103.28 L42.63,116.30 M53.97,103.28 L52.08,103.90 L50.82,105.76 L50.19,108.86 L50.19,110.72 L50.82,113.82 L52.08,115.68 L53.97,116.30 L55.23,116.30 L57.12,115.68 L58.38,113.82 L59.01,110.72 L59.01,108.86 L58.38,105.76 L57.12,103.90 L55.23,103.28 L53.97,103.28 M62.78,99.05 L66.90,99.05 L64.65,102.00 L65.78,102.00 L66.53,102.37 L66.90,102.74 L67.28,103.85 L67.28,104.59 L66.90,105.69 L66.15,106.43 L65.03,106.80 L63.90,106.80 L62.78,106.43 L62.40,106.06 L62.03,105.32 M71.78,99.05 L70.65,99.42 L69.90,100.53 L69.53,102.37 L69.53,103.48 L69.90,105.32 L70.65,106.43 L71.78,106.80 L72.53,106.80 L73.65,106.43 L74.40,105.32 L74.78,103.48 L74.78,102.37 L74.40,100.53 L73.65,99.42 L72.53,99.05 L71.78,99.05 M39.48,139.36 L40.74,138.74 L42.63,136.88 L42.63,149.90 M53.97,136.88 L52.08,137.50 L50.82,139.36 L50.19,142.46 L50.19,144.32 L50.82,147.42 L52.08,149.28 L53.97,149.90 L55.23,149.90 L57.12,149.28 L58.38,147.42 L59.01,144.32 L59.01,142.46 L58.38,139.36 L57.12,137.50 L55.23,136.88 L53.97,136.88 M62.40,134.50 L62.40,134.13 L62.78,133.39 L63.15,133.02 L63.90,132.65 L65.40,132.65 L66.15,133.02 L66.53,133.39 L66.90,134.13 L66.90,134.87 L66.53,135.60 L65.78,136.71 L62.03,140.40 L67.28,140.40 M74.40,135.23 L74.03,136.34 L73.28,137.08 L72.15,137.45 L71.78,137.45 L70.65,137.08 L69.90,136.34 L69.53,135.23 L69.53,134.87 L69.90,133.76 L70.65,133.02 L71.78,132.65 L72.15,132.65 L73.28,133.02 L74.03,133.76 L74.40,135.23 L74.40,137.08 L74.03,138.92 L73.28,140.03 L72.15,140.40 L71.40,140.40 L70.28,140.03 L69.90,139.29 M39.48,172.96 L40.74,172.34 L42.63,170.48 L42.63,183.50 M53.97,170.48 L52.08,171.10 L50.82,172.96 L50.19,176.06 L50.19,177.92 L50.82,181.02 L52.08,182.88 L53.97,183.50 L55.23,183.50 L57.12,182.88 L58.38,181.02 L59.01,177.92 L59.01,176.06 L58.38,172.96 L57.12,171.10 L55.23,170.48 L53.97,170.48 M62.40,168.10 L62.40,167.73 L62.78,166.99 L63.15,166.62 L63.90,166.25 L65.40,166.25 L66.15,166.62 L66.53,166.99 L66.90,167.73 L66.90,168.47 L66.53,169.20 L65.78,170.31 L62.03,174.00 L67.28,174.00 M71.40,166.25 L70.28,166.62 L69.90,167.36 L69.90,168.10 L70.28,168.83 L71.03,169.20 L72.53,169.57 L73.65,169.94 L74.40,170.68 L74.78,171.42 L74.78,172.52 L74.40,173.26 L74.03,173.63 L72.90,174.00 L71.40,174.00 L70.28,173.63 L69.90,173.26 L69.53,172.52 L69.53,171.42 L69.90,170.68 L70.65,169.94 L71.78,169.57 L73.28,169.20 L74.03,168.83 L74.40,168.10 L74.40,167.36 L74.03,166.62 L72.90,166.25 L71.40,166.25 M5.38,176.03 L18.40,176.03 M5.38,176.03 L5.38,167.84 M11.58,176.03 L11.58,170.99 M18.40,176.03 L18.40,167.84 M5.38,164.06 L18.40,164.06 M5.38,164.06 L18.40,159.02 M5.38,153.98 L18.40,159.02 M5.38,153.98 L18.40,153.98 M2.90,138.86 L22.74,138.86 M2.90,138.23 L22.74,138.23 M2.90,138.86 L2.90,134.45 M22.74,138.86 L22.74,134.45 M11.58,123.11 L10.34,124.37 L9.72,125.63 L9.72,127.52 L10.34,128.78 L11.58,130.04 L13.44,130.67 L14.68,130.67 L16.54,130.04 L17.78,128.78 L18.40,127.52 L18.40,125.63 L17.78,124.37 L16.54,123.11 M9.72,118.70 L18.40,118.70 M12.20,118.70 L10.34,116.81 L9.72,115.55 L9.72,113.66 L10.34,112.40 L12.20,111.77 L18.40,111.77 M12.20,111.77 L10.34,109.88 L9.72,108.62 L9.72,106.73 L10.34,105.47 L12.20,104.84 L18.40,104.84 M5.58,100.82 L5.58,94.07 M1.15,86.95 L1.15,90.70 L4.47,91.07 L4.10,90.70 L3.73,89.57 L3.73,88.45 L4.10,87.32 L4.84,86.57 L5.95,86.20 L6.69,86.20 L7.79,86.57 L8.53,87.32 L8.90,88.45 L8.90,89.57 L8.53,90.70 L8.16,91.07 L7.42,91.45 M2.90,79.40 L22.74,79.40 M2.90,78.77 L22.74,78.77 M2.90,83.18 L2.90,78.77 M22.74,83.18 L22.74,78.77 M103.31,50.80 L102.05,52.04 L100.79,53.90 L99.53,56.38 L98.90,59.48 L98.90,61.96 L99.53,65.06 L100.79,67.54 L102.05,69.40 L103.31,70.64 M114.65,57.62 L114.65,66.30 M114.65,59.48 L113.39,58.24 L112.13,57.62 L110.24,57.62 L108.98,58.24 L107.72,59.48 L107.09,61.34 L107.09,62.58 L107.72,64.44 L108.98,65.68 L110.24,66.30 L112.13,66.30 L113.39,65.68 L114.65,64.44 M119.06,50.80 L120.32,52.04 L121.58,53.90 L122.84,56.38 L123.47,59.48 L123.47,61.96 L122.84,65.06 L121.58,67.54 L120.32,69.40 L119.06,70.64 M103.31,215.60 L102.05,216.84 L100.79,218.70 L99.53,221.18 L98.90,224.28 L98.90,226.76 L99.53,229.86 L100.79,232.34 L102.05,234.20 L103.31,235.44 M107.72,218.08 L107.72,231.10 M107.72,224.28 L108.98,223.04 L110.24,222.42 L112.13,222.42 L113.39,223.04 L114.65,224.28 L115.28,226.14 L115.28,227.38 L114.65,229.24 L113.39,230.48 L112.13,231.10 L110.24,231.10 L108.98,230.48 L107.72,229.24 M119.06,215.60 L120.32,216.84 L121.58,218.70 L122.84,221.18 L123.47,224.28 L123.47,226.76 L122.84,229.86 L121.58,232.34 L120.32,234.20 L119.06,235.44 M442.31,215.80 L441.05,217.04 L439.79,218.90 L438.53,221.38 L437.90,224.48 L437.90,226.96 L438.53,230.06 L439.79,232.54 L441.05,234.40 L442.31,235.64 M453.65,224.48 L452.39,223.24 L451.13,222.62 L449.24,222.62 L447.98,223.24 L446.72,224.48 L446.09,226.34 L446.09,227.58 L446.72,229.44 L447.98,230.68 L449.24,231.30 L451.13,231.30 L452.39,230.68 L453.65,229.44 M457.43,215.80 L458.69,217.04 L459.95,218.90 L461.21,221.38 L461.84,224.48 L461.84,226.96 L461.21,230.06 L459.95,232.54 L458.69,234.40 L457.43,235.64 M52.92,233.28 L52.92,232.66 L53.55,231.42 L54.18,230.80 L55.44,230.18 L57.96,230.18 L59.22,230.80 L59.85,231.42 L60.48,232.66 L60.48,233.90 L59.85,235.14 L58.59,237.00 L52.29,243.20 L61.11,243.20 M65.52,233.28 L65.52,232.66 L66.15,231.42 L66.78,230.80 L68.04,230.18 L70.56,230.18 L71.82,230.80 L72.45,231.42 L73.08,232.66 L73.08,233.90 L72.45,235.14 L71.19,237.00 L64.89,243.20 L73.71,243.20 M52.92,268.48 L52.92,267.86 L53.55,266.62 L54.18,266.00 L55.44,265.38 L57.96,265.38 L59.22,266.00 L59.85,266.62 L60.48,267.86 L60.48,269.10 L59.85,270.34 L58.59,272.20 L52.29,278.40 L61.11,278.40 M68.67,265.38 L66.78,266.00 L65.52,267.86 L64.89,270.96 L64.89,272.82 L65.52,275.92 L66.78,277.78 L68.67,278.40 L69.93,278.40 L71.82,277.78 L73.08,275.92 L73.71,272.82 L73.71,270.96 L73.08,267.86 L71.82,266.00 L69.93,265.38 L68.67,265.38 M54.18,303.06 L55.44,302.44 L57.33,300.58 L57.33,313.60 M68.04,300.58 L66.15,301.20 L65.52,302.44 L65.52,303.68 L66.15,304.92 L67.41,305.54 L69.93,306.16 L71.82,306.78 L73.08,308.02 L73.71,309.26 L73.71,311.12 L73.08,312.36 L72.45,312.98 L70.56,313.60 L68.04,313.60 L66.15,312.98 L65.52,312.36 L64.89,311.12 L64.89,309.26 L65.52,308.02 L66.78,306.78 L68.67,306.16 L71.19,305.54 L72.45,304.92 L73.08,303.68 L73.08,302.44 L72.45,301.20 L70.56,300.58 L68.04,300.58 M54.18,338.26 L55.44,337.64 L57.33,335.78 L57.33,348.80 M73.08,337.64 L72.45,336.40 L70.56,335.78 L69.30,335.78 L67.41,336.40 L66.15,338.26 L65.52,341.36 L65.52,344.46 L66.15,346.94 L67.41,348.18 L69.30,348.80 L69.93,348.80 L71.82,348.18 L73.08,346.94 L73.71,345.08 L73.71,344.46 L73.08,342.60 L71.82,341.36 L69.93,340.74 L69.30,340.74 L67.41,341.36 L66.15,342.60 L65.52,344.46 M54.18,373.46 L55.44,372.84 L57.33,370.98 L57.33,384.00 M71.19,370.98 L64.89,379.66 L74.34,379.66 M71.19,370.98 L71.19,384.00 M54.18,408.66 L55.44,408.04 L57.33,406.18 L57.33,419.20 M65.52,409.28 L65.52,408.66 L66.15,407.42 L66.78,406.80 L68.04,406.18 L70.56,406.18 L71.82,406.80 L72.45,407.42 L73.08,408.66 L73.08,409.90 L72.45,411.14 L71.19,413.00 L64.89,419.20 L73.71,419.20 M20.08,347.79 L33.10,347.79 M20.08,352.19 L20.08,343.38 M17.60,330.14 L37.44,330.14 M17.60,329.51 L37.44,329.51 M17.60,330.14 L17.60,325.74 M37.44,330.14 L37.44,325.74 M20.08,321.32 L33.10,321.32 M20.08,321.32 L33.10,316.29 M20.08,311.25 L33.10,316.29 M20.08,311.25 L33.10,311.25 M20.08,306.20 L33.10,306.20 M20.08,297.38 L28.76,306.20 M25.66,303.06 L33.10,297.38 M17.60,289.82 L37.44,289.82 M17.60,289.19 L37.44,289.19 M17.60,293.61 L17.60,289.19 M37.44,293.61 L37.44,289.19 M108.48,448.72 L107.85,450.58 L106.59,451.82 L104.70,452.44 L104.07,452.44 L102.18,451.82 L100.92,450.58 L100.29,448.72 L100.29,448.10 L100.92,446.24 L102.18,445.00 L104.07,444.38 L104.70,444.38 L106.59,445.00 L107.85,446.24 L108.48,448.72 L108.48,451.82 L107.85,454.92 L106.59,456.78 L104.70,457.40 L103.44,457.40 L101.55,456.78 L100.92,455.54 M120.45,444.38 L114.15,444.38 L113.52,449.96 L114.15,449.34 L116.04,448.72 L117.93,448.72 L119.82,449.34 L121.08,450.58 L121.71,452.44 L121.71,453.68 L121.08,455.54 L119.82,456.78 L117.93,457.40 L116.04,457.40 L114.15,456.78 L113.52,456.16 L112.89,454.92 M129.27,444.38 L127.38,445.00 L126.12,446.86 L125.49,449.96 L125.49,451.82 L126.12,454.92 L127.38,456.78 L129.27,457.40 L130.53,457.40 L132.42,456.78 L133.68,454.92 L134.31,451.82 L134.31,449.96 L133.68,446.86 L132.42,445.00 L130.53,444.38 L129.27,444.38 M154.54,446.86 L155.80,446.24 L157.69,444.38 L157.69,457.40 M169.03,444.38 L167.14,445.00 L165.88,446.86 L165.25,449.96 L165.25,451.82 L165.88,454.92 L167.14,456.78 L169.03,457.40 L170.29,457.40 L172.18,456.78 L173.44,454.92 L174.07,451.82 L174.07,449.96 L173.44,446.86 L172.18,445.00 L170.29,444.38 L169.03,444.38 M181.63,444.38 L179.74,445.00 L178.48,446.86 L177.85,449.96 L177.85,451.82 L178.48,454.92 L179.74,456.78 L181.63,457.40 L182.89,457.40 L184.78,456.78 L186.04,454.92 L186.67,451.82 L186.67,449.96 L186.04,446.86 L184.78,445.00 L182.89,444.38 L181.63,444.38 M194.23,444.38 L192.34,445.00 L191.08,446.86 L190.45,449.96 L190.45,451.82 L191.08,454.92 L192.34,456.78 L194.23,457.40 L195.49,457.40 L197.38,456.78 L198.64,454.92 L199.27,451.82 L199.27,449.96 L198.64,446.86 L197.38,445.00 L195.49,444.38 L194.23,444.38 M213.20,446.86 L214.46,446.24 L216.35,444.38 L216.35,457.40 M227.69,444.38 L225.80,445.00 L224.54,446.86 L223.91,449.96 L223.91,451.82 L224.54,454.92 L225.80,456.78 L227.69,457.40 L228.95,457.40 L230.84,456.78 L232.10,454.92 L232.73,451.82 L232.73,449.96 L232.10,446.86 L230.84,445.00 L228.95,444.38 L227.69,444.38 M244.07,444.38 L237.77,444.38 L237.14,449.96 L237.77,449.34 L239.66,448.72 L241.55,448.72 L243.44,449.34 L244.70,450.58 L245.33,452.44 L245.33,453.68 L244.70,455.54 L243.44,456.78 L241.55,457.40 L239.66,457.40 L237.77,456.78 L237.14,456.16 L236.51,454.92 M252.89,444.38 L251.00,445.00 L249.74,446.86 L249.11,449.96 L249.11,451.82 L249.74,454.92 L251.00,456.78 L252.89,457.40 L254.15,457.40 L256.04,456.78 L257.30,454.92 L257.93,451.82 L257.93,449.96 L257.30,446.86 L256.04,445.00 L254.15,444.38 L252.89,444.38 M271.86,446.86 L273.12,446.24 L275.01,444.38 L275.01,457.40 M284.46,446.86 L285.72,446.24 L287.61,444.38 L287.61,457.40 M298.95,444.38 L297.06,445.00 L295.80,446.86 L295.17,449.96 L295.17,451.82 L295.80,454.92 L297.06,456.78 L298.95,457.40 L300.21,457.40 L302.10,456.78 L303.36,454.92 L303.99,451.82 L303.99,449.96 L303.36,446.86 L302.10,445.00 L300.21,444.38 L298.95,444.38 M311.55,444.38 L309.66,445.00 L308.40,446.86 L307.77,449.96 L307.77,451.82 L308.40,454.92 L309.66,456.78 L311.55,457.40 L312.81,457.40 L314.70,456.78 L315.96,454.92 L316.59,451.82 L316.59,449.96 L315.96,446.86 L314.70,445.00 L312.81,444.38 L311.55,444.38 M330.52,446.86 L331.78,446.24 L333.67,444.38 L333.67,457.40 M343.12,446.86 L344.38,446.24 L346.27,444.38 L346.27,457.40 M361.39,444.38 L355.09,444.38 L354.46,449.96 L355.09,449.34 L356.98,448.72 L358.87,448.72 L360.76,449.34 L362.02,450.58 L362.65,452.44 L362.65,453.68 L362.02,455.54 L360.76,456.78 L358.87,457.40 L356.98,457.40 L355.09,456.78 L354.46,456.16 L353.83,454.92 M370.21,444.38 L368.32,445.00 L367.06,446.86 L366.43,449.96 L366.43,451.82 L367.06,454.92 L368.32,456.78 L370.21,457.40 L371.47,457.40 L373.36,456.78 L374.62,454.92 L375.25,451.82 L375.25,449.96 L374.62,446.86 L373.36,445.00 L371.47,444.38 L370.21,444.38 M389.18,446.86 L390.44,446.24 L392.33,444.38 L392.33,457.40 M400.52,447.48 L400.52,446.86 L401.15,445.62 L401.78,445.00 L403.04,444.38 L405.56,444.38 L406.82,445.00 L407.45,445.62 L408.08,446.86 L408.08,448.10 L407.45,449.34 L406.19,451.20 L399.89,457.40 L408.71,457.40 M416.27,444.38 L414.38,445.00 L413.12,446.86 L412.49,449.96 L412.49,451.82 L413.12,454.92 L414.38,456.78 L416.27,457.40 L417.53,457.40 L419.42,456.78 L420.68,454.92 L421.31,451.82 L421.31,449.96 L420.68,446.86 L419.42,445.00 L417.53,444.38 L416.27,444.38 M428.87,444.38 L426.98,445.00 L425.72,446.86 L425.09,449.96 L425.09,451.82 L425.72,454.92 L426.98,456.78 L428.87,457.40 L430.13,457.40 L432.02,456.78 L433.28,454.92 L433.91,451.82 L433.91,449.96 L433.28,446.86 L432.02,445.00 L430.13,444.38 L428.87,444.38 M201.83,472.82 L208.76,481.50 M208.76,472.82 L201.83,481.50 M223.25,466.00 L223.25,485.84 M223.88,466.00 L223.88,485.84 M223.25,466.00 L227.66,466.00 M223.25,485.84 L227.66,485.84 M239.00,472.82 L239.00,481.50 M239.00,474.68 L237.74,473.44 L236.48,472.82 L234.59,472.82 L233.33,473.44 L232.07,474.68 L231.44,476.54 L231.44,477.78 L232.07,479.64 L233.33,480.88 L234.59,481.50 L236.48,481.50 L237.74,480.88 L239.00,479.64 M244.04,472.82 L244.04,481.50 M244.04,476.54 L244.67,474.68 L245.93,473.44 L247.19,472.82 L249.08,472.82 M259.16,474.68 L257.90,473.44 L256.64,472.82 L254.75,472.82 L253.49,473.44 L252.23,474.68 L251.60,476.54 L251.60,477.78 L252.23,479.64 L253.49,480.88 L254.75,481.50 L256.64,481.50 L257.90,480.88 L259.16,479.64 M269.87,474.68 L269.24,473.44 L267.35,472.82 L265.46,472.82 L263.57,473.44 L262.94,474.68 L263.57,475.92 L264.83,476.54 L267.98,477.16 L269.24,477.78 L269.87,479.02 L269.87,479.64 L269.24,480.88 L267.35,481.50 L265.46,481.50 L263.57,480.88 L262.94,479.64 M273.65,476.54 L281.21,476.54 L281.21,475.30 L280.58,474.06 L279.95,473.44 L278.69,472.82 L276.80,472.82 L275.54,473.44 L274.28,474.68 L273.65,476.54 L273.65,477.78 L274.28,479.64 L275.54,480.88 L276.80,481.50 L278.69,481.50 L279.95,480.88 L281.21,479.64 M292.55,474.68 L291.29,473.44 L290.03,472.82 L288.14,472.82 L286.88,473.44 L285.62,474.68 L284.99,476.54 L284.99,477.78 L285.62,479.64 L286.88,480.88 L288.14,481.50 L290.03,481.50 L291.29,480.88 L292.55,479.64 M300.11,466.00 L300.11,485.84 M300.74,466.00 L300.74,485.84 M296.33,466.00 L300.74,466.00 M296.33,485.84 L300.74,485.84 M461.98,189.26 L463.24,188.64 L465.13,186.78 L465.13,199.80 M476.47,186.78 L474.58,187.40 L473.32,189.26 L472.69,192.36 L472.69,194.22 L473.32,197.32 L474.58,199.18 L476.47,199.80 L477.73,199.80 L479.62,199.18 L480.88,197.32 L481.51,194.22 L481.51,192.36 L480.88,189.26 L479.62,187.40 L477.73,186.78 L476.47,186.78 M484.90,184.40 L484.90,184.03 L485.27,183.29 L485.65,182.92 L486.40,182.55 L487.90,182.55 L488.65,182.92 L489.02,183.29 L489.40,184.03 L489.40,184.77 L489.02,185.50 L488.27,186.61 L484.52,190.30 L489.77,190.30 M493.90,182.55 L492.77,182.92 L492.40,183.66 L492.40,184.40 L492.77,185.13 L493.52,185.50 L495.02,185.87 L496.15,186.24 L496.90,186.98 L497.27,187.72 L497.27,188.82 L496.90,189.56 L496.52,189.93 L495.40,190.30 L493.90,190.30 L492.77,189.93 L492.40,189.56 L492.02,188.82 L492.02,187.72 L492.40,186.98 L493.15,186.24 L494.27,185.87 L495.77,185.50 L496.52,185.13 L496.90,184.40 L496.90,183.66 L496.52,182.92 L495.40,182.55 L493.90,182.55 M518.95,189.26 L520.21,188.64 L522.10,186.78 L522.10,199.80 M533.44,186.78 L531.55,187.40 L530.29,189.26 L529.66,192.36 L529.66,194.22 L530.29,197.32 L531.55,199.18 L533.44,199.80 L534.70,199.80 L536.59,199.18 L537.85,197.32 L538.48,194.22 L538.48,192.36 L537.85,189.26 L536.59,187.40 L534.70,186.78 L533.44,186.78 M541.87,184.40 L541.87,184.03 L542.25,183.29 L542.62,182.92 L543.37,182.55 L544.87,182.55 L545.62,182.92 L546.00,183.29 L546.37,184.03 L546.37,184.77 L546.00,185.50 L545.25,186.61 L541.50,190.30 L546.75,190.30 M553.87,185.13 L553.50,186.24 L552.75,186.98 L551.62,187.35 L551.25,187.35 L550.12,186.98 L549.37,186.24 L549.00,185.13 L549.00,184.77 L549.37,183.66 L550.12,182.92 L551.25,182.55 L551.62,182.55 L552.75,182.92 L553.50,183.66 L553.87,185.13 L553.87,186.98 L553.50,188.82 L552.75,189.93 L551.62,190.30 L550.87,190.30 L549.75,189.93 L549.37,189.19 M575.92,189.26 L577.18,188.64 L579.07,186.78 L579.07,199.80 M590.41,186.78 L588.52,187.40 L587.26,189.26 L586.63,192.36 L586.63,194.22 L587.26,197.32 L588.52,199.18 L590.41,199.80 L591.67,199.80 L593.56,199.18 L594.82,197.32 L595.45,194.22 L595.45,192.36 L594.82,189.26 L593.56,187.40 L591.67,186.78 L590.41,186.78 M599.22,182.55 L603.34,182.55 L601.09,185.50 L602.22,185.50 L602.97,185.87 L603.34,186.24 L603.72,187.35 L603.72,188.09 L603.34,189.19 L602.59,189.93 L601.47,190.30 L600.34,190.30 L599.22,189.93 L598.84,189.56 L598.47,188.82 M608.22,182.55 L607.09,182.92 L606.34,184.03 L605.97,185.87 L605.97,186.98 L606.34,188.82 L607.09,189.93 L608.22,190.30 L608.97,190.30 L610.09,189.93 L610.84,188.82 L611.22,186.98 L611.22,185.87 L610.84,184.03 L610.09,182.92 L608.97,182.55 L608.22,182.55 M632.89,189.26 L634.15,188.64 L636.04,186.78 L636.04,199.80 M647.38,186.78 L645.49,187.40 L644.23,189.26 L643.60,192.36 L643.60,194.22 L644.23,197.32 L645.49,199.18 L647.38,199.80 L648.64,199.80 L650.53,199.18 L651.79,197.32 L652.42,194.22 L652.42,192.36 L651.79,189.26 L650.53,187.40 L648.64,186.78 L647.38,186.78 M656.19,182.55 L660.31,182.55 L658.06,185.50 L659.19,185.50 L659.94,185.87 L660.31,186.24 L660.69,187.35 L660.69,188.09 L660.31,189.19 L659.56,189.93 L658.44,190.30 L657.31,190.30 L656.19,189.93 L655.81,189.56 L655.44,188.82 M664.06,184.03 L664.81,183.66 L665.94,182.55 L665.94,190.30 M512.47,168.78 L512.47,181.80 M512.47,168.78 L520.66,168.78 M512.47,174.98 L517.51,174.98 M512.47,181.80 L520.66,181.80 M524.44,168.78 L524.44,181.80 M524.44,168.78 L529.48,181.80 M534.52,168.78 L529.48,181.80 M534.52,168.78 L534.52,181.80 M549.64,166.30 L549.64,186.14 M550.27,166.30 L550.27,186.14 M549.64,166.30 L554.05,166.30 M549.64,186.14 L554.05,186.14 M565.39,174.98 L564.13,173.74 L562.87,173.12 L560.98,173.12 L559.72,173.74 L558.46,174.98 L557.83,176.84 L557.83,178.08 L558.46,179.94 L559.72,181.18 L560.98,181.80 L562.87,181.80 L564.13,181.18 L565.39,179.94 M569.80,173.12 L569.80,181.80 M569.80,175.60 L571.69,173.74 L572.95,173.12 L574.84,173.12 L576.10,173.74 L576.73,175.60 L576.73,181.80 M576.73,175.60 L578.62,173.74 L579.88,173.12 L581.77,173.12 L583.03,173.74 L583.66,175.60 L583.66,181.80 M587.68,168.98 L594.43,168.98 M601.56,164.55 L597.81,164.55 L597.43,167.87 L597.81,167.50 L598.93,167.13 L600.06,167.13 L601.18,167.50 L601.93,168.24 L602.31,169.35 L602.31,170.09 L601.93,171.19 L601.18,171.93 L600.06,172.30 L598.93,172.30 L597.81,171.93 L597.43,171.56 L597.06,170.82 M609.10,166.30 L609.10,186.14 M609.73,166.30 L609.73,186.14 M605.32,166.30 L609.73,166.30 M605.32,186.14 L609.73,186.14 M465.73,446.46 L466.99,445.84 L468.88,443.98 L468.88,457.00 M480.22,443.98 L478.33,444.60 L477.07,446.46 L476.44,449.56 L476.44,451.42 L477.07,454.52 L478.33,456.38 L480.22,457.00 L481.48,457.00 L483.37,456.38 L484.63,454.52 L485.26,451.42 L485.26,449.56 L484.63,446.46 L483.37,444.60 L481.48,443.98 L480.22,443.98 M493.15,442.33 L492.77,443.44 L492.02,444.18 L490.90,444.55 L490.52,444.55 L489.40,444.18 L488.65,443.44 L488.27,442.33 L488.27,441.96 L488.65,440.86 L489.40,440.12 L490.52,439.75 L490.90,439.75 L492.02,440.12 L492.77,440.86 L493.15,442.33 L493.15,444.18 L492.77,446.02 L492.02,447.13 L490.90,447.50 L490.15,447.50 L489.02,447.13 L488.65,446.39 M575.92,446.46 L577.18,445.84 L579.07,443.98 L579.07,457.00 M590.41,443.98 L588.52,444.60 L587.26,446.46 L586.63,449.56 L586.63,451.42 L587.26,454.52 L588.52,456.38 L590.41,457.00 L591.67,457.00 L593.56,456.38 L594.82,454.52 L595.45,451.42 L595.45,449.56 L594.82,446.46 L593.56,444.60 L591.67,443.98 L590.41,443.98 M599.59,441.23 L600.34,440.86 L601.47,439.75 L601.47,447.50 M608.22,439.75 L607.09,440.12 L606.34,441.23 L605.97,443.07 L605.97,444.18 L606.34,446.02 L607.09,447.13 L608.22,447.50 L608.97,447.50 L610.09,447.13 L610.84,446.02 L611.22,444.18 L611.22,443.07 L610.84,441.23 L610.09,440.12 L608.97,439.75 L608.22,439.75 M516.65,472.72 L516.65,481.40 M516.65,475.20 L518.54,473.34 L519.80,472.72 L521.69,472.72 L522.96,473.34 L523.59,475.20 L523.59,481.40 M527.23,483.05 L531.73,483.05 L531.73,482.31 L531.36,481.57 L530.98,481.20 L530.23,480.83 L529.11,480.83 L528.36,481.20 L527.61,481.94 L527.23,483.05 L527.23,483.79 L527.61,484.89 L528.36,485.63 L529.11,486.00 L530.23,486.00 L530.98,485.63 L531.73,484.89 M545.46,465.90 L545.46,485.74 M546.09,465.90 L546.09,485.74 M545.46,465.90 L549.87,465.90 M545.46,485.74 L549.87,485.74 M561.20,474.58 L559.94,473.34 L558.68,472.72 L556.79,472.72 L555.53,473.34 L554.27,474.58 L553.64,476.44 L553.64,477.68 L554.27,479.54 L555.53,480.78 L556.79,481.40 L558.68,481.40 L559.94,480.78 L561.20,479.54 M565.62,472.72 L565.62,481.40 M565.62,475.20 L567.50,473.34 L568.76,472.72 L570.65,472.72 L571.91,473.34 L572.54,475.20 L572.54,481.40 M572.54,475.20 L574.43,473.34 L575.69,472.72 L577.59,472.72 L578.85,473.34 L579.48,475.20 L579.48,481.40 M583.50,468.58 L590.25,468.58 M593.62,464.15 L597.75,464.15 L595.50,467.10 L596.62,467.10 L597.37,467.47 L597.75,467.84 L598.12,468.95 L598.12,469.69 L597.75,470.79 L597.00,471.53 L595.87,471.90 L594.75,471.90 L593.62,471.53 L593.25,471.16 L592.87,470.42 M604.91,465.90 L604.91,485.74 M605.54,465.90 L605.54,485.74 M601.13,465.90 L605.54,465.90 M601.13,485.74 L605.54,485.74" fill="none" stroke="#2a2a2a" stroke-width="1.0" stroke-linecap="butt" stroke-linejoin="round"/>
<path d="M113.30,150.42 L119.36,150.42 L119.36,149.43 L118.85,148.44 L118.35,147.94 L117.34,147.44 L115.83,147.44 L114.81,147.94 L113.80,148.93 L113.30,150.42 L113.30,151.42 L113.80,152.91 L114.81,153.90 L115.83,154.40 L117.34,154.40 L118.35,153.90 L119.36,152.91 M122.39,147.44 L127.94,154.40 M127.94,147.44 L122.39,154.40 M131.48,147.44 L131.48,157.88 M131.48,148.93 L132.49,147.94 L133.50,147.44 L135.01,147.44 L136.03,147.94 L137.03,148.93 L137.54,150.42 L137.54,151.42 L137.03,152.91 L136.03,153.90 L135.01,154.40 L133.50,154.40 L132.49,153.90 L131.48,152.91 M144.61,141.98 L143.60,142.97 L142.59,144.46 L141.58,146.45 L141.07,148.93 L141.07,150.92 L141.58,153.41 L142.59,155.39 L143.60,156.88 L144.61,157.88 M156.22,149.93 L165.31,149.93 M169.36,146.45 L169.36,145.95 L169.86,144.96 L170.37,144.46 L171.38,143.96 L173.40,143.96 L174.41,144.46 L174.91,144.96 L175.41,145.95 L175.41,146.95 L174.91,147.94 L173.90,149.43 L168.85,154.40 L175.92,154.40 M178.95,147.44 L184.50,154.40 M184.50,147.44 L178.95,154.40 M196.12,141.98 L187.03,157.88 M199.15,143.96 L199.15,154.40 M206.22,143.96 L206.22,154.40 M199.15,148.93 L206.22,148.93 M217.84,141.98 L218.85,142.97 L219.86,144.46 L220.87,146.45 L221.37,148.93 L221.37,150.92 L220.87,153.41 L219.86,155.39 L218.85,156.88 L217.84,157.88 M128.30,165.16 L128.30,175.60 M135.37,165.16 L135.37,175.60 M128.30,170.13 L135.37,170.13 M147.49,169.64 L156.58,169.64 M147.49,172.62 L156.58,172.62 M173.25,165.16 L168.19,172.12 L175.77,172.12 M173.25,165.16 L173.25,175.60 M185.37,165.16 L180.31,175.60 M178.30,165.16 L185.37,165.16 M196.98,165.16 L196.98,175.60 M196.98,165.16 L201.02,175.60 M205.06,165.16 L201.02,175.60 M205.06,165.16 L205.06,175.60 M209.10,168.64 L209.10,175.60 M209.10,170.63 L210.62,169.14 L211.62,168.64 L213.14,168.64 L214.15,169.14 L214.66,170.63 L214.66,175.60 M214.66,170.63 L216.17,169.14 L217.18,168.64 L218.69,168.64 L219.71,169.14 L220.21,170.63 L220.21,175.60" fill="none" stroke="#aa00ff" stroke-width="1.0" stroke-linecap="butt" stroke-linejoin="round"/>
<path d="M101.80,333.25 L102.81,332.76 L104.32,331.26 L104.32,341.70 M116.95,332.76 L116.44,331.76 L114.93,331.26 L113.92,331.26 L112.41,331.76 L111.39,333.25 L110.89,335.74 L110.89,338.22 L111.39,340.21 L112.41,341.20 L113.92,341.70 L114.42,341.70 L115.94,341.20 L116.95,340.21 L117.45,338.72 L117.45,338.22 L116.95,336.73 L115.94,335.74 L114.42,335.24 L113.92,335.24 L112.41,335.74 L111.39,336.73 L110.89,338.22 M121.49,334.74 L120.99,335.24 L121.49,335.74 L122.00,335.24 L121.49,334.74 M121.49,340.71 L120.99,341.20 L121.49,341.70 L122.00,341.20 L121.49,340.71 M127.05,333.25 L128.06,332.76 L129.57,331.26 L129.57,341.70 M138.16,331.26 L136.64,331.76 L136.14,332.76 L136.14,333.75 L136.64,334.74 L137.66,335.24 L139.68,335.74 L141.19,336.23 L142.20,337.23 L142.70,338.22 L142.70,339.71 L142.20,340.71 L141.69,341.20 L140.18,341.70 L138.16,341.70 L136.64,341.20 L136.14,340.71 L135.63,339.71 L135.63,338.22 L136.14,337.23 L137.15,336.23 L138.66,335.74 L140.69,335.24 L141.69,334.74 L142.20,333.75 L142.20,332.76 L141.69,331.76 L140.18,331.26 L138.16,331.26" fill="none" stroke="#ff0000" stroke-width="1.0" stroke-linecap="butt" stroke-linejoin="round"/>
<path d="M101.80,379.45 L102.81,378.96 L104.32,377.46 L104.32,387.90 M116.95,378.96 L116.44,377.96 L114.93,377.46 L113.92,377.46 L112.41,377.96 L111.39,379.45 L110.89,381.94 L110.89,384.42 L111.39,386.41 L112.41,387.40 L113.92,387.90 L114.42,387.90 L115.94,387.40 L116.95,386.41 L117.45,384.92 L117.45,384.42 L116.95,382.93 L115.94,381.94 L114.42,381.44 L113.92,381.44 L112.41,381.94 L111.39,382.93 L110.89,384.42 M121.49,380.94 L120.99,381.44 L121.49,381.94 L122.00,381.44 L121.49,380.94 M121.49,386.91 L120.99,387.40 L121.49,387.90 L122.00,387.40 L121.49,386.91 M130.59,377.46 L125.53,384.42 L133.11,384.42 M130.59,377.46 L130.59,387.90 M137.15,379.45 L138.16,378.96 L139.68,377.46 L139.68,387.90" fill="none" stroke="#0000ff" stroke-width="1.0" stroke-linecap="butt" stroke-linejoin="round"/>
</g>
</svg>
</body></html>
